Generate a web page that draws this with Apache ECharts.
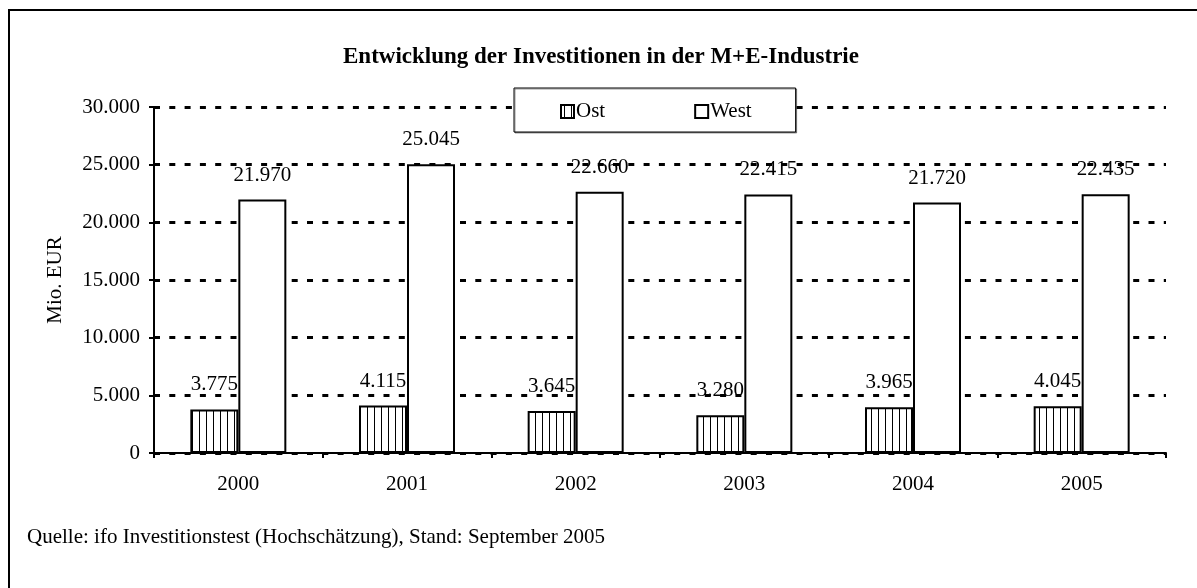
<!DOCTYPE html>
<html>
<head>
<meta charset="utf-8">
<title>Entwicklung der Investitionen in der M+E-Industrie</title>
<script src="https://cdn.jsdelivr.net/npm/echarts@6/dist/echarts.min.js"></script>
<style>
html,body{margin:0;padding:0;background:#fff;}
#InvestChart{width:1197px;height:588px;}
</style>
</head>
<body>
<div id="InvestChart"></div>
<script>
// Daten
var years = ['2000', '2001', '2002', '2003', '2004', '2005'];
var ost = [3775, 4115, 3645, 3280, 3965, 4045];
var west = [21970, 25045, 22660, 22415, 21720, 22435];
var yTicks = [0, 5000, 10000, 15000, 20000, 25000, 30000];

var FONT = '"Liberation Serif", "Times New Roman", serif';

// Zahl mit Tausenderpunkt
function fmt(v){
	return String(v).replace(/\B(?=(\d{3})+(?!\d))/g, '.');
}

// senkrechte Schraffur fuer Ost
function stripePattern(){
	var c = document.createElement('canvas');
	c.width = 7;
	c.height = 7;
	var ctx = c.getContext('2d');
	ctx.fillStyle = '#fff';
	ctx.fillRect(0, 0, 7, 7);
	ctx.fillStyle = '#000';
	ctx.fillRect(3, 0, 1, 7);
	return c;
}

function initInvestChart(){
	var myChart = echarts.init(document.getElementById('InvestChart'));
	var labelStyle = {
		show: true,
		position: 'top',
		distance: 14,
		color: '#000',
		fontFamily: FONT,
		fontSize: 21,
		formatter: function(p){ return fmt(p.value); }
	};
	var option = {
		backgroundColor: '#fff',
		animation: false,
		title: {
			text: 'Entwicklung der Investitionen in der M+E-Industrie',
			left: 343,
			top: 46,
			padding: 0,
			textStyle: {color: '#000', fontFamily: FONT, fontSize: 23, fontWeight: 'bold'}
		},
		legend: {
			left: 514,
			top: 88,
			padding: [13, 44, 10, 46],
			itemGap: 89,
			itemWidth: 13,
			itemHeight: 13,
			icon: 'rect',
			itemStyle: {borderColor: '#000', borderWidth: 2},
			backgroundColor: '#fff',
			borderColor: '#000',
			borderWidth: 1,
			shadowColor: 'rgba(0,0,0,0.4)',
			shadowOffsetX: 1,
			shadowOffsetY: 1,
			textStyle: {color: '#000', fontFamily: FONT, fontSize: 21, padding: [0, 0, 0, -3]},
			data: ['Ost', 'West']
		},
		grid: {left: 154, right: 31, top: 107, bottom: 135},
		xAxis: [{
			type: 'category',
			data: years,
			axisLine: {lineStyle: {color: '#000', width: 2}},
			axisTick: {show: true, length: 5, lineStyle: {color: '#000', width: 2}},
			axisLabel: {color: '#000', fontFamily: FONT, fontSize: 21, margin: 21}
		}],
		yAxis: [{
			type: 'value',
			min: yTicks[0],
			max: yTicks[yTicks.length - 1],
			interval: 5000,
			name: 'Mio. EUR',
			nameLocation: 'middle',
			nameGap: 88,
			nameTextStyle: {color: '#000', fontFamily: FONT, fontSize: 21},
			axisLine: {show: true, lineStyle: {color: '#000', width: 2}},
			axisTick: {show: true, length: 5, lineStyle: {color: '#000', width: 2}},
			axisLabel: {color: '#000', fontFamily: FONT, fontSize: 21, margin: 14, formatter: fmt},
			splitLine: {lineStyle: {color: '#000', width: 3, type: [6, 9.3]}}
		}],
		series: [
			{
				name: 'Ost',
				type: 'bar',
				data: ost,
				barWidth: 48,
				barGap: '0%',
				itemStyle: {color: {image: stripePattern(), repeat: 'repeat'}, borderColor: '#000', borderWidth: 2},
				label: labelStyle
			},
			{
				name: 'West',
				type: 'bar',
				data: west,
				barWidth: 48,
				itemStyle: {color: '#fff', borderColor: '#000', borderWidth: 2},
				label: labelStyle
			}
		],
		graphic: [
			{
				type: 'rect',
				silent: true,
				shape: {x: 9, y: 10, width: 1300, height: 700},
				style: {fill: null, stroke: '#000', lineWidth: 2}
			},
			{
				type: 'text',
				left: 27,
				top: 527,
				style: {text: 'Quelle: ifo Investitionstest (Hochschätzung), Stand: September 2005', fill: '#000', font: '21px ' + FONT}
			}
		]
	};
	myChart.setOption(option);
}

initInvestChart();
</script>
</body>
</html>
